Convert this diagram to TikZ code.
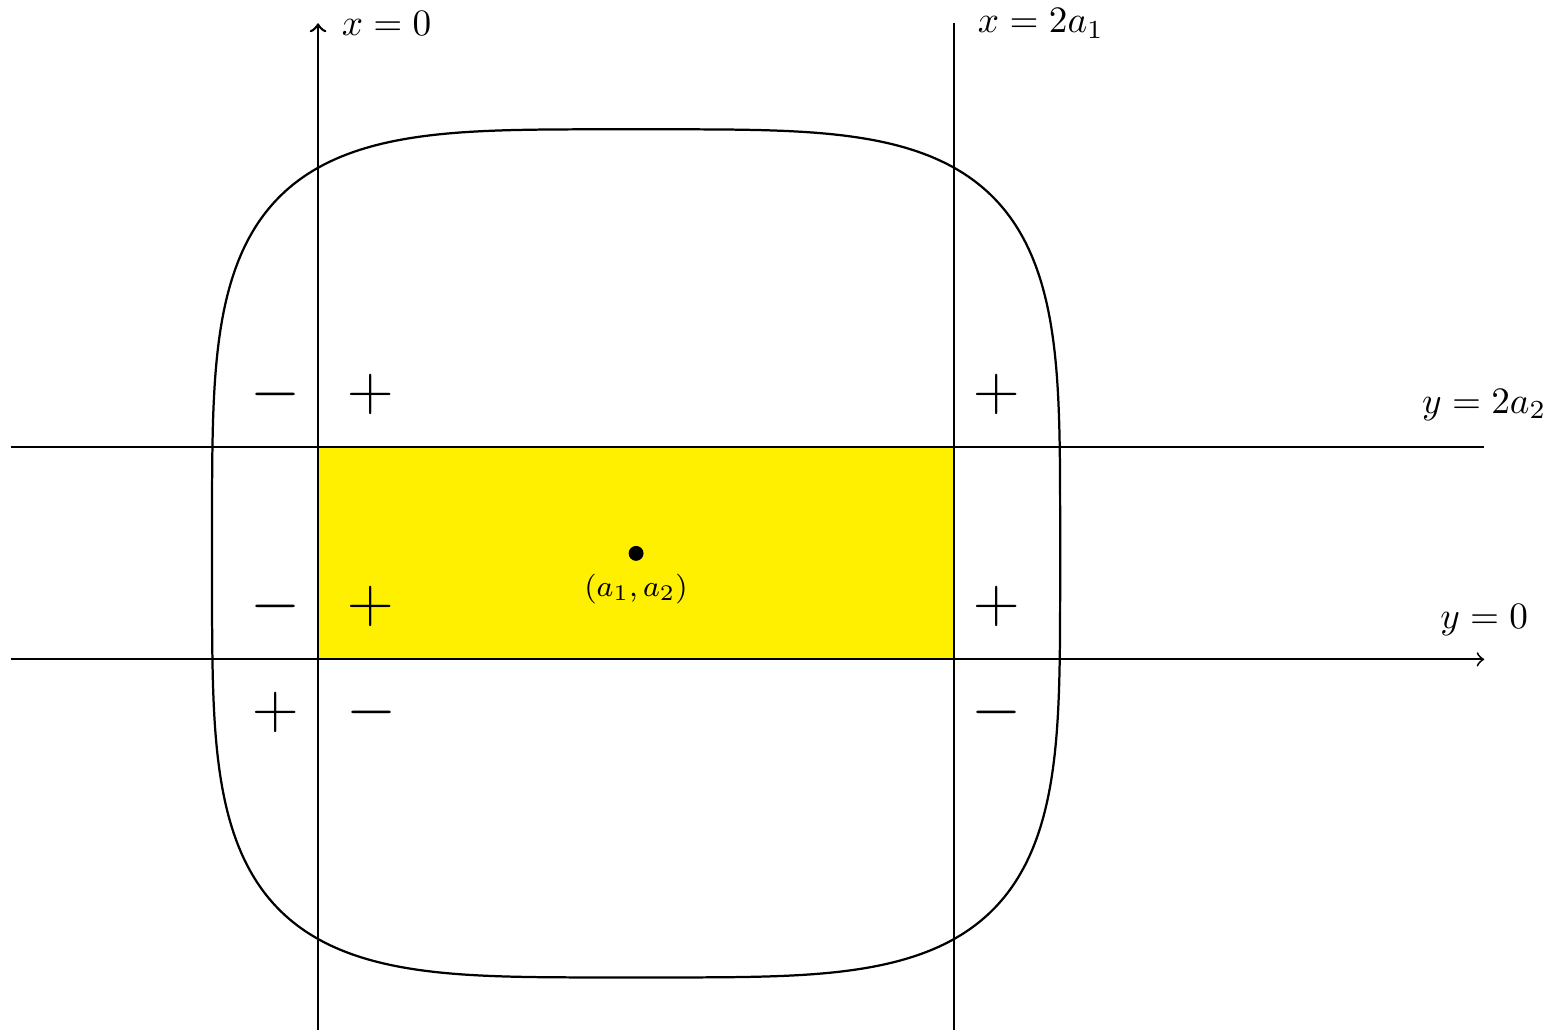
\documentclass[tikz,border=0pt]{standalone}
\usepackage{xcolor}
\usepackage{tikz}
\definecolor{regionyellow}{HTML}{FFF000}
\definecolor{lineblack}{HTML}{000000}

\begin{document}
\begin{tikzpicture}[
    x=1cm,y=1cm,
    vline/.style={draw=lineblack, line width=0.7pt},
    hline/.style={draw=lineblack, line width=0.5pt},
    contour/.style={draw=lineblack, line width=0.6pt},
    region/.style={fill=regionyellow, draw=none},
    sign/.style={font=\LARGE, inner sep=0pt},
    axislabel/.style={font=\normalsize},
    pointlabel/.style={font=\footnotesize}
  ]
    \useasboundingbox (-3,-3.49) rectangle (11.63,6.22);

    \fill[region] (0,0) rectangle (6,2);

    \coordinate (xzerobot) at (0,-3.5);
    \coordinate (xzerotop) at (0,6);
    \coordinate (xtwobot) at (6,-3.5);
    \coordinate (xtwotop) at (6,6);
    \coordinate (yzeroleft) at (-2.9,0);
    \coordinate (yzeroright) at (11,0);
    \coordinate (ytwoleft) at (-2.9,2);
    \coordinate (ytworight) at (11,2);

    \draw[contour] plot[domain=0:359, samples=360, smooth cycle]
      ({3+4*sign(cos(\x))*sqrt(abs(cos(\x)))},{1+4*sign(sin(\x))*sqrt(abs(sin(\x)))});

    \draw[hline, ->] (yzeroleft) -- (yzeroright);
    \draw[hline] (ytwoleft) -- (ytworight);
    \draw[vline, ->] (xzerobot) -- (xzerotop);
    \draw[vline] (xtwobot) -- (xtwotop);

    \node[axislabel, right] (xzerolab) at (0.1,6) {$x=0$};
    \node[axislabel, right] (xtwolab) at (6.1,6) {$x=2a_1$};
    \node[axislabel] (ytwolab) at (11,2.4) {$y=2a_2$};
    \node[axislabel] (yzerolab) at (11,0.37) {$y=0$};

    \fill[lineblack] (3,1) circle (2pt) coordinate (centre);
    \node[pointlabel, below, yshift=-2pt] (centrelab) at (centre) {$(a_1,a_2)$};

    \node[sign] (topleft) at (-0.4,2.5) {$-$};
    \node[sign] (topmid) at (0.5,2.5) {$+$};
    \node[sign] (topright) at (6.4,2.5) {$+$};
    \node[sign] (midleft) at (-0.4,0.5) {$-$};
    \node[sign] (midmid) at (0.5,0.5) {$+$};
    \node[sign] (midright) at (6.4,0.5) {$+$};
    \node[sign] (botleft) at (-0.4,-0.5) {$+$};
    \node[sign] (botmid) at (0.5,-0.5) {$-$};
    \node[sign] (botright) at (6.4,-0.5) {$-$};
  \end{tikzpicture}
\end{document}
